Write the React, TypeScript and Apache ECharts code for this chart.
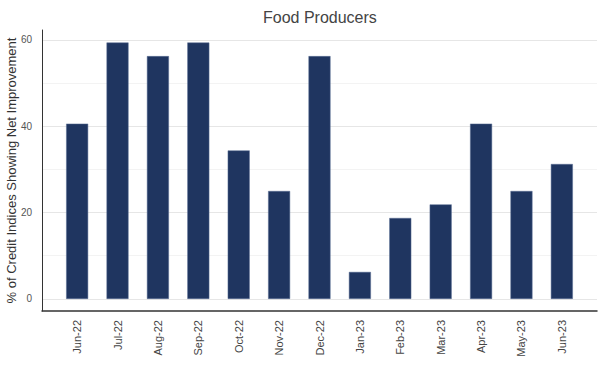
import React, { useEffect, useRef } from "react";
import * as echarts from "echarts";

const categories = ["Jun-22", "Jul-22", "Aug-22", "Sep-22", "Oct-22", "Nov-22", "Dec-22", "Jan-23", "Feb-23", "Mar-23", "Apr-23", "May-23", "Jun-23"];
const values = [40.6, 59.4, 56.25, 59.4, 34.4, 25, 56.25, 6.25, 18.75, 21.9, 40.6, 25, 31.25];
const yTickLabels = [0, 20, 40, 60];
const yGridValues = [0, 10, 20, 30, 40, 50, 60];

export default function App() {
  const ref = useRef<HTMLDivElement>(null);
  useEffect(() => {
    if (!ref.current) return;
    const chart = echarts.init(ref.current, null, { renderer: "svg" });
    chart.setOption({
      animation: false,
      title: {
        text: "Food Producers",
        left: 258,
        top: 4,
        textStyle: { fontSize: 16, fontWeight: "normal", color: "#444", fontFamily: "Arial, Liberation Sans, sans-serif" },
      },
      grid: { left: 42, right: 8, top: 30, bottom: 67, containLabel: false, outerBoundsMode: "none" },
      xAxis: {
        type: "value",
        min: -0.87,
        max: 12.87,
        axisLine: { show: true, onZero: false, lineStyle: { color: "#333", width: 1.5 } },
        axisTick: { show: false, customValues: categories.map((_, i) => i) },
        splitLine: { show: false },
        axisLabel: {
          customValues: categories.map((_, i) => i),
          formatter: (v: number) => categories[Math.round(v)] ?? "",
          rotate: 90,
          color: "#444",
          fontSize: 11,
          margin: 9,
          fontFamily: "Arial, Liberation Sans, sans-serif",
        },
      },
      yAxis: {
        type: "value",
        min: -2.8,
        max: 62.3,
        name: "% of Credit Indices Showing Net Improvement",
        nameLocation: "middle",
        nameGap: 24,
        nameMoveOverlap: false,
        nameTextStyle: { fontSize: 13, color: "#333", fontFamily: "Arial, Liberation Sans, sans-serif" },
        axisLine: { show: true, onZero: false, lineStyle: { color: "#333", width: 1 } },
        axisTick: { show: false, customValues: yGridValues },
        axisLabel: {
          customValues: yTickLabels,
          color: "#555",
          fontSize: 10,
          margin: 10,
          fontFamily: "Arial, Liberation Sans, sans-serif",
        },
        splitLine: { show: true, lineStyle: { color: ["#e6e6e6", "#f3f3f3"], width: 1 } },
      },
      series: [
        {
          type: "bar",
          data: values.map((v, i) => [i, v]),
          barWidth: 22,
          itemStyle: { color: "#1f3560", borderColor: "#5a6f94", borderWidth: 0.5 },
        },
      ],
    });
    return () => chart.dispose();
  }, []);
  return <div ref={ref} style={{ width: 605, height: 378, position: "absolute", left: 0, top: 0 }} />;
}
